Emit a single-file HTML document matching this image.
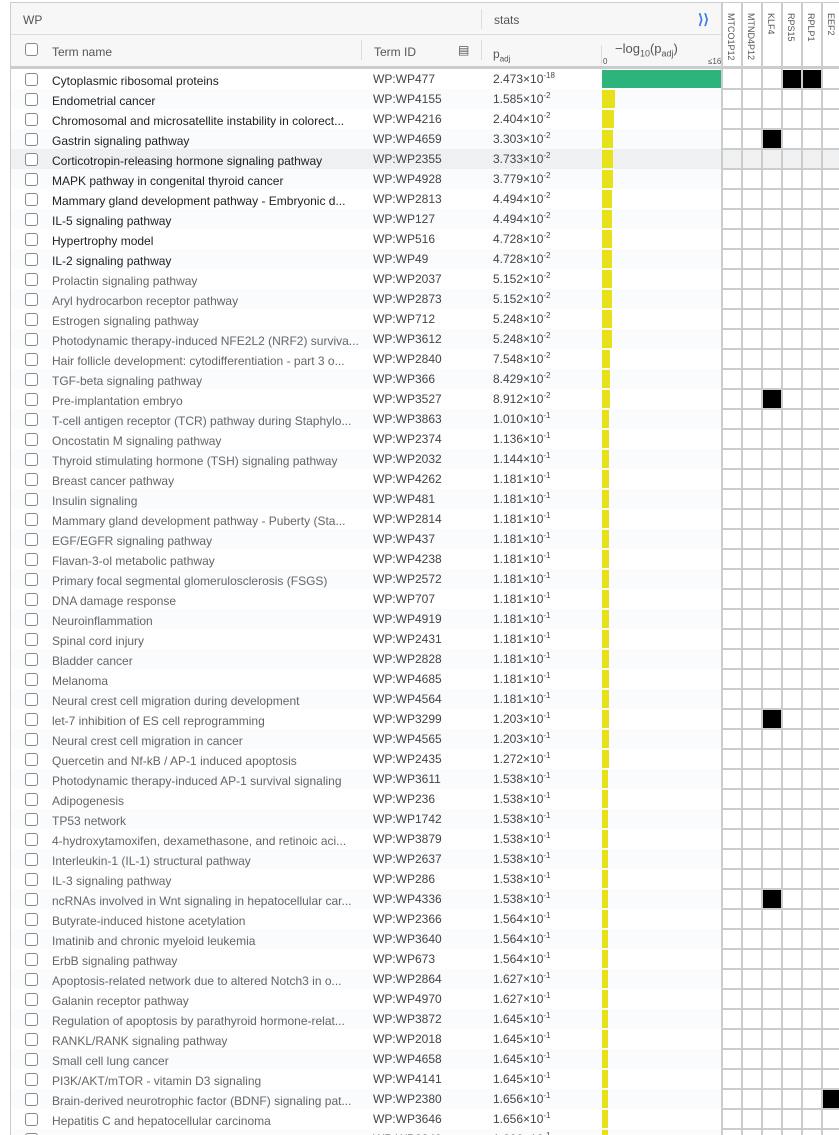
<!DOCTYPE html>
<html><head><meta charset="utf-8">
<style>
body{margin:0;width:839px;height:1134px;overflow:hidden;background:#fff;font-family:"Liberation Sans",sans-serif;font-size:12px;color:#222}
#wrap{position:absolute;left:10px;top:2px;width:829px;height:1132px;border-left:1px solid #ccc;border-top:1px solid #ccc;overflow:hidden}
.h1{position:absolute;left:0;top:0;width:711px;height:31px;background:#f7f7f7;border-bottom:1px solid #ddd}
.h2{position:absolute;left:0;top:32px;width:711px;height:31px;background:#f7f7f7;border-bottom:3px solid #ccc}
.t{position:absolute;white-space:nowrap}
.cb{position:absolute;width:11px;height:11px;border:1px solid #888;border-radius:3px;background:#fff}
.row{position:absolute;left:0;width:711px;height:20px}
.bar{position:absolute;left:591px;height:18px;top:1px}
.gl{position:absolute;background:#ccc}
.blk{position:absolute;width:18px;height:18px;background:#000}
.gh{position:absolute;top:10px;writing-mode:vertical-rl;font-size:9px;color:#555}
sup{font-size:8px;vertical-align:5px;line-height:0}
</style></head><body>
<div id="wrap">
<div class="h1"><span class="t" style="left:12px;top:10px;color:#555">WP</span>
<div class="gl" style="left:470px;top:6px;width:1px;height:20px;background:#ddd"></div>
<span class="t" style="left:483px;top:10px;color:#555">stats</span>
<span class="t" style="left:687px;top:8px;color:#3b78e7;font-size:14px;font-weight:bold">&#10217;&#10217;</span></div>
<div class="h2"><div class="cb" style="left:14px;top:8px"></div>
<span class="t" style="left:41px;top:10px;color:#555">Term name</span>
<div class="gl" style="left:350px;top:5px;width:1px;height:20px;background:#ddd"></div>
<span class="t" style="left:363px;top:10px;color:#555">Term ID</span>
<span class="t" style="left:447px;top:8px;color:#555">&#9636;</span>
<div class="gl" style="left:470px;top:5px;width:1px;height:20px;background:#ddd"></div>
<span class="t" style="left:482px;top:12px;color:#555">p<sub style="font-size:8px">adj</sub></span>
<div class="gl" style="left:590px;top:10px;width:1px;height:20px;background:#ddd"></div>
<span class="t" style="left:604px;top:6px;color:#555;font-size:13px">−log<sub style="font-size:9px">10</sub>(p<sub style="font-size:9px">adj</sub>)</span>
<span class="t" style="left:592px;top:22px;color:#555;font-size:8px">0</span>
<span class="t" style="left:697px;top:22px;color:#555;font-size:8px">≤16</span>
</div>
<div id="rows"></div>
<div id="grid"></div>
</div>
<script>
(function(){
var d=[["Cytoplasmic ribosomal proteins","WP:WP477","2.473",-18],
["Endometrial cancer","WP:WP4155","1.585",-2],
["Chromosomal and microsatellite instability in colorect...","WP:WP4216","2.404",-2],
["Gastrin signaling pathway","WP:WP4659","3.303",-2],
["Corticotropin-releasing hormone signaling pathway","WP:WP2355","3.733",-2],
["MAPK pathway in congenital thyroid cancer","WP:WP4928","3.779",-2],
["Mammary gland development pathway - Embryonic d...","WP:WP2813","4.494",-2],
["IL-5 signaling pathway","WP:WP127","4.494",-2],
["Hypertrophy model","WP:WP516","4.728",-2],
["IL-2 signaling pathway","WP:WP49","4.728",-2],
["Prolactin signaling pathway","WP:WP2037","5.152",-2],
["Aryl hydrocarbon receptor pathway","WP:WP2873","5.152",-2],
["Estrogen signaling pathway","WP:WP712","5.248",-2],
["Photodynamic therapy-induced NFE2L2 (NRF2) surviva...","WP:WP3612","5.248",-2],
["Hair follicle development: cytodifferentiation - part 3 o...","WP:WP2840","7.548",-2],
["TGF-beta signaling pathway","WP:WP366","8.429",-2],
["Pre-implantation embryo","WP:WP3527","8.912",-2],
["T-cell antigen receptor (TCR) pathway during Staphylo...","WP:WP3863","1.010",-1],
["Oncostatin M signaling pathway","WP:WP2374","1.136",-1],
["Thyroid stimulating hormone (TSH) signaling pathway","WP:WP2032","1.144",-1],
["Breast cancer pathway","WP:WP4262","1.181",-1],
["Insulin signaling","WP:WP481","1.181",-1],
["Mammary gland development pathway - Puberty (Sta...","WP:WP2814","1.181",-1],
["EGF/EGFR signaling pathway","WP:WP437","1.181",-1],
["Flavan-3-ol metabolic pathway","WP:WP4238","1.181",-1],
["Primary focal segmental glomerulosclerosis (FSGS)","WP:WP2572","1.181",-1],
["DNA damage response","WP:WP707","1.181",-1],
["Neuroinflammation","WP:WP4919","1.181",-1],
["Spinal cord injury","WP:WP2431","1.181",-1],
["Bladder cancer","WP:WP2828","1.181",-1],
["Melanoma","WP:WP4685","1.181",-1],
["Neural crest cell migration during development","WP:WP4564","1.181",-1],
["let-7 inhibition of ES cell reprogramming","WP:WP3299","1.203",-1],
["Neural crest cell migration in cancer","WP:WP4565","1.203",-1],
["Quercetin and Nf-kB / AP-1 induced apoptosis","WP:WP2435","1.272",-1],
["Photodynamic therapy-induced AP-1 survival signaling","WP:WP3611","1.538",-1],
["Adipogenesis","WP:WP236","1.538",-1],
["TP53 network","WP:WP1742","1.538",-1],
["4-hydroxytamoxifen, dexamethasone, and retinoic aci...","WP:WP3879","1.538",-1],
["Interleukin-1 (IL-1) structural pathway","WP:WP2637","1.538",-1],
["IL-3 signaling pathway","WP:WP286","1.538",-1],
["ncRNAs involved in Wnt signaling in hepatocellular car...","WP:WP4336","1.538",-1],
["Butyrate-induced histone acetylation","WP:WP2366","1.564",-1],
["Imatinib and chronic myeloid leukemia","WP:WP3640","1.564",-1],
["ErbB signaling pathway","WP:WP673","1.564",-1],
["Apoptosis-related network due to altered Notch3 in o...","WP:WP2864","1.627",-1],
["Galanin receptor pathway","WP:WP4970","1.627",-1],
["Regulation of apoptosis by parathyroid hormone-relat...","WP:WP3872","1.645",-1],
["RANKL/RANK signaling pathway","WP:WP2018","1.645",-1],
["Small cell lung cancer","WP:WP4658","1.645",-1],
["PI3K/AKT/mTOR - vitamin D3 signaling","WP:WP4141","1.645",-1],
["Brain-derived neurotrophic factor (BDNF) signaling pat...","WP:WP2380","1.656",-1],
["Hepatitis C and hepatocellular carcinoma","WP:WP3646","1.656",-1],
["","WP:WP2840","1.666",-1]];
var blacks={0:[3,4],3:[2],16:[2],32:[2],41:[2],51:[5]};
var h="";
for(var i=0;i<d.length;i++){
 var r=d[i],yy=66+i*20,bg=i==4?"#eef0f2":(i%2?"#f9fbfd":"#fff");
 var col=i<10?"#222":"#666";
 var v=-Math.log10(parseFloat(r[2])*Math.pow(10,r[3]));
 var w=Math.max(3,Math.min(1,v/16)*119);
 h+='<div class="row" style="top:'+yy+'px;background:'+bg+(i==4?';width:829px':'')+'">'+
 '<div class="cb" style="left:14px;top:4px"></div>'+
 '<span class="t" style="left:41px;top:5px;color:'+col+'">'+r[0]+'</span>'+
 '<span class="t" style="left:362px;top:3px;color:#444">'+r[1]+'</span>'+
 '<span class="t" style="left:482px;top:3px;color:#444">'+r[2]+'×10<sup>'+r[3]+'</sup></span>'+
 '<div class="bar" style="width:'+(i==0?119:Math.round(w))+'px;background:'+(i==0?"#2db37c":"#e8e01a")+'"></div></div>';
}
document.getElementById("rows").innerHTML=h;
var g="";
var genes=["MTCO1P12","MTND4P12","KLF4","RPS15","RPLP1","EEF2"];
for(var c=0;c<=6;c++){g+='<div class="gl" style="left:'+(710+c*20)+'px;top:0;width:2px;height:1132px"></div>';}
for(var c=0;c<6;c++){g+='<span class="gh" style="left:'+(715+c*20)+'px">'+genes[c]+'</span>';}
g+='<div class="gl" style="left:710px;top:63px;width:120px;height:3px"></div>';
for(var i=1;i<55;i++){g+='<div class="gl" style="left:710px;top:'+(66+i*20-1)+'px;width:120px;height:2px"></div>';}
for(var k in blacks){blacks[k].forEach(function(c){g+='<div class="blk" style="left:'+(712+c*20)+'px;top:'+(66+k*20+1)+'px"></div>';});}
document.getElementById("grid").innerHTML=g;
})();
</script>
</body></html>
